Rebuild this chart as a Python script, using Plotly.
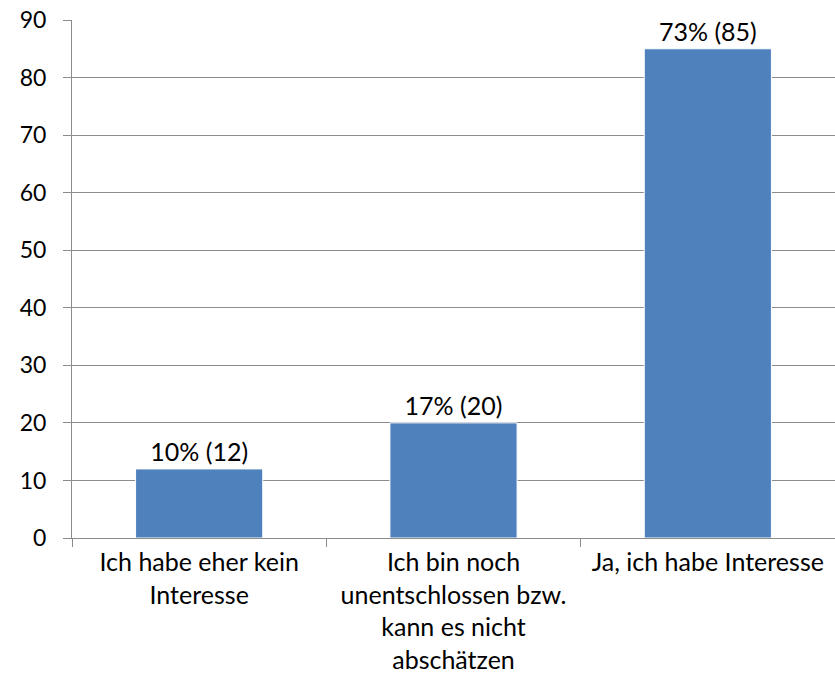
import plotly.graph_objects as go

categories = ["Ich habe eher kein<br>Interesse",
              "Ich bin noch<br>unentschlossen bzw.<br>kann es nicht<br>abschätzen",
              "Ja, ich habe Interesse"]
values = [12, 20, 85]
labels = ["10% (12)", "17% (20)", "73% (85)"]
y_ticks = list(range(0, 100, 10))

FONT = "Lato"
GRID = "#8c8c8c"
FS = 25

fig = go.Figure(go.Bar(
    x=categories, y=values, text=labels, textposition="outside",
    textfont=dict(family=FONT, size=FS, color="black"),
    marker=dict(color="#4f81bd", line=dict(color="white", width=1)),
    width=0.5, cliponaxis=False,
))
fig.update_layout(
    width=835, height=679,
    margin=dict(l=72, r=0, t=20, b=141),
    plot_bgcolor="white", paper_bgcolor="white",
    font=dict(family=FONT, size=FS, color="black"),
    showlegend=False,
)
fig.update_yaxes(range=[0, 90], tickvals=y_ticks, showgrid=True, gridcolor=GRID,
                 gridwidth=1, showline=True, linecolor=GRID, linewidth=1,
                 ticks="outside", ticklen=8, tickcolor=GRID, zeroline=False,
                 tickfont=dict(family=FONT, size=23), automargin=False,
                 ticklabelstandoff=12, ticklabeloverflow="allow")
fig.update_xaxes(showline=True, linecolor=GRID, linewidth=1, ticks="outside",
                 tickson="boundaries", ticklen=8, tickcolor=GRID,
                 tickfont=dict(family=FONT, size=FS), tickangle=0, automargin=False,
                 ticklabelstandoff=2, ticklabeloverflow="allow")
fig.write_html("out.html", config={"displayModeBar": False},
               post_script="document.body.style.margin='0';document.body.style.overflow='hidden';")
